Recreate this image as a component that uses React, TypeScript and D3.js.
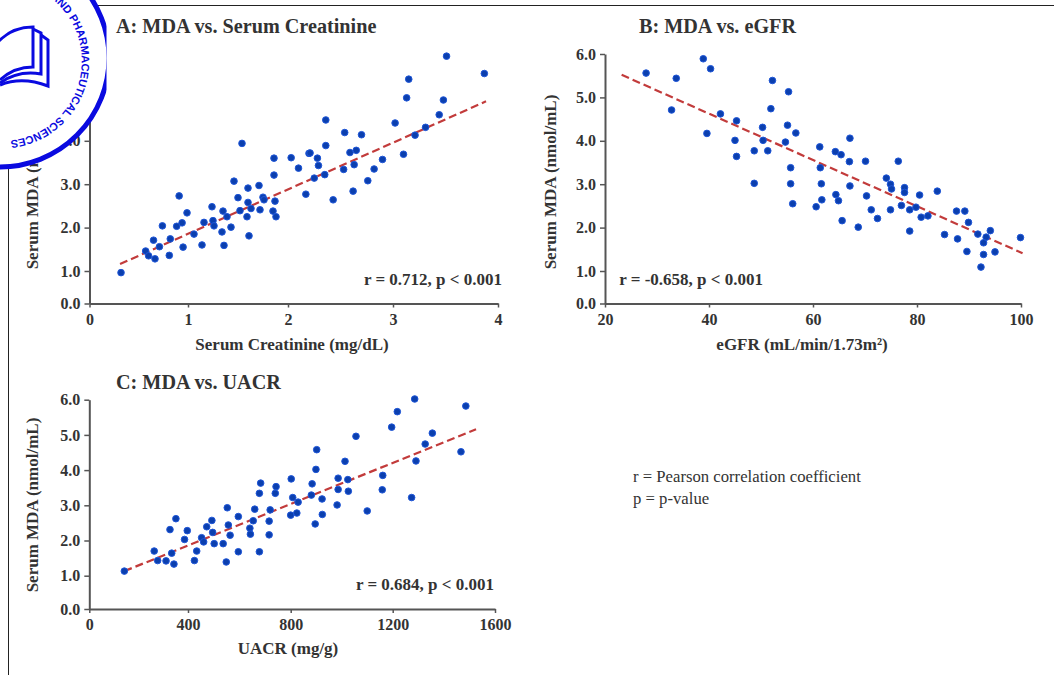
import React, { useEffect, useRef } from 'react';
import * as d3 from 'd3';

// A: MDA vs serum creatinine
const creatinine = [1.54,1.86,2.03,2.20,2.10,1.86,1.46,1.60,1.71,2.17,0.91,1.50,1.75,1.60,1.76,1.87,1.24,1.63,1.72,0.99,1.35,1.52,1.85,1.88,1.59,1.39,1.25,1.16,1.26,0.74,0.885,0.94,1.43,1.34,1.06,0.65,0.82,0.95,1.14,1.36,1.61,0.71,0.57,0.60,0.665,0.81,0.32,3.51,3.87,3.15,3.13,3.48,3.44,2.36,3.02,3.31,2.54,2.70,3.21,2.36,2.59,2.65,2.21,2.28,3.10,2.90,2.29,2.63,2.53,2.82,2.35,2.25,2.76,2.62,2.43];
const creatinineMda = [3.94,3.60,3.61,3.71,3.37,3.21,3.07,2.91,2.97,2.77,2.73,2.69,2.70,2.58,2.64,2.61,2.48,2.44,2.41,2.34,2.38,2.39,2.38,2.25,2.25,2.25,2.16,2.12,2.04,2.04,2.03,2.11,2.01,1.90,1.85,1.71,1.74,1.55,1.60,1.59,1.81,1.56,1.46,1.35,1.28,1.36,0.95,5.95,5.55,5.42,4.99,4.94,4.60,4.48,4.41,4.31,4.19,4.14,4.13,3.89,3.73,3.78,3.72,3.60,3.69,3.57,3.43,3.45,3.34,3.35,3.22,3.14,3.08,2.84,2.64];
const creatinineFitX = [0.31, 3.886];
const creatinineFitY = [1.16, 4.91];
const creatinineTicks = [0, 1, 2, 3, 4];

// B: MDA vs eGFR
const egfr = [27.9,33.7,38.9,40.3,32.8,39.6,42.2,45.3,45.0,45.3,48.7,48.7,50.3,50.4,51.3,52.2,51.9,55.3,55.1,56.7,54.7,55.7,55.7,56.1,61.3,67.1,64.3,65.4,67.0,70.1,76.4,61.4,61.6,67.1,74.1,74.9,75.1,77.6,77.6,80.5,83.9,64.4,70.3,61.7,64.9,60.6,77.0,71.2,74.9,78.6,79.8,87.6,89.2,80.8,82.1,72.4,65.6,68.7,78.6,89.9,85.3,87.8,91.7,94.1,93.3,92.8,99.9,89.6,95.0,92.8,92.3];
const egfrMda = [5.56,5.44,5.89,5.66,4.71,4.17,4.62,4.46,4.01,3.64,3.77,3.02,4.31,4.01,3.77,5.39,4.74,5.13,4.36,4.18,3.97,3.38,3.01,2.55,3.86,4.06,3.75,3.68,3.52,3.53,3.53,3.38,3.01,2.96,3.14,3.00,2.89,2.92,2.81,2.75,2.84,2.76,2.73,2.64,2.62,2.48,2.51,2.41,2.41,2.41,2.47,2.38,2.38,2.24,2.27,2.21,2.16,2.01,1.92,2.12,1.84,1.74,1.85,1.93,1.78,1.65,1.77,1.45,1.44,1.38,1.09];
const egfrFitX = [23.2, 100.3];
const egfrFitY = [5.52, 1.41];
const egfrTicks = [20, 40, 60, 80, 100];

// C: MDA vs UACR
const uacr = [142,263,277,311,343,334,327,351,386,397,425,434,453,461,473,493,496,502,537,549,564,557,553,596,596,641,643,654,660,678,683,678,716,720,716,740,743,802,808,829,824,800,884,881,899,902,923,924,896,986,986,982,1013,1024,1026,1056,1100,1161,1159,1196,1218,1274,1286,1291,1327,1355,1467,1486];
const uacrMda = [1.13,1.70,1.43,1.42,1.33,1.64,2.31,2.62,2.03,2.28,1.43,1.70,2.08,1.96,2.39,2.57,2.23,1.91,1.91,1.39,2.15,2.44,2.93,2.68,1.68,2.35,2.18,2.56,2.89,3.34,3.63,1.68,2.55,2.87,2.16,3.34,3.53,3.75,3.22,3.09,2.78,2.72,3.61,3.29,4.02,4.58,3.18,2.74,2.47,3.77,3.45,3.01,4.25,3.73,3.40,4.96,2.84,3.85,3.44,5.22,5.66,3.22,6.02,4.26,4.74,5.05,4.52,5.82];
const uacrFitX = [142, 1526];
const uacrFitY = [1.13, 5.16];
const uacrTicks = [0, 400, 800, 1200, 1600];

const mdaTicks = [0, 1, 2, 3, 4, 5, 6];

const FONT = '"Liberation Serif", serif';
const TEXT = '#333';
const AXIS = '#555';

function drawPanel(svg, p) {
  const x = d3.scaleLinear().domain(p.xTicks).range(p.xRange);
  const y = d3.scaleLinear().domain([0, 1, 6]).range(p.yRange);

  const xAxis = svg.append('g')
    .attr('transform', `translate(0,${p.yRange[0]})`)
    .call(d3.axisBottom(x).tickValues(p.xTicks).tickFormat(d3.format('d')).tickSize(4).tickSizeOuter(0).tickPadding(6));
  const yAxis = svg.append('g')
    .attr('transform', `translate(${p.xRange[0]},0)`)
    .call(d3.axisLeft(y).tickValues(mdaTicks).tickFormat(d3.format('.1f')).tickSize(5).tickSizeOuter(0).tickPadding(4));

  [xAxis, yAxis].forEach(a => {
    a.select('.domain').attr('stroke', AXIS).attr('stroke-width', 2);
    a.selectAll('line').attr('stroke', AXIS).attr('stroke-width', 1.5);
    a.selectAll('text')
      .style('font-family', FONT).style('font-weight', 'bold')
      .style('font-size', '16px').attr('fill', TEXT);
  });

  // fit line sits under the points
  const line = d3.line().x(d => x(d[0])).y(d => y(d[1]));
  svg.append('path')
    .attr('d', line(d3.zip(p.fitX, p.fitY)))
    .attr('fill', 'none')
    .attr('stroke', '#c23b3b')
    .attr('stroke-width', 2.2)
    .attr('stroke-dasharray', '8 4');

  svg.append('g').selectAll('circle')
    .data(d3.zip(p.xs, p.ys))
    .enter().append('circle')
    .attr('cx', d => x(d[0]))
    .attr('cy', d => y(d[1]))
    .attr('r', 3.3)
    .attr('fill', '#0b3fae')
    .attr('stroke', '#1f56d8')
    .attr('stroke-width', 1);

  const label = (txt, lx, ly, size, rotate = false, anchor = 'middle') => {
    const t = svg.append('text')
      .attr('text-anchor', anchor)
      .style('font-family', FONT).style('font-weight', 'bold')
      .style('font-size', size + 'px')
      .attr('fill', TEXT);
    if (rotate) t.attr('transform', `translate(${lx},${ly}) rotate(-90)`);
    else t.attr('x', lx).attr('y', ly);
    t.text(txt);
  };

  label(p.title, p.titleX, p.titleY, 20.2, false, 'start');
  label(p.xLabel, p.xLabelX, p.xLabelY, 17);
  label('Serum MDA (nmol/mL)', p.yLabelX, p.yLabelY, 17, true);
  label(p.stat, p.statX, p.statY, 17, false, 'end');
}

function drawLogo(svg) {
  const defs = svg.append('defs');
  defs.append('clipPath').attr('id', 'logo-clip')
    .append('rect').attr('x', 0).attr('y', -10).attr('width', 106.5).attr('height', 200);
  defs.append('path').attr('id', 'logo-arc')
    .attr('d', 'M 2 -19 A 80 80 0 1 1 -20 138');

  const g = svg.append('g').attr('clip-path', 'url(#logo-clip)');
  g.append('circle')
    .attr('cx', 0).attr('cy', 58).attr('r', 109)
    .attr('fill', '#fff')
    .attr('stroke', '#0a0ae0')
    .attr('stroke-width', 5);

  g.append('text')
    .style('font-family', '"Liberation Sans", sans-serif')
    .style('font-weight', 'bold')
    .style('font-size', '11px')
    .attr('fill', '#0a0ae0')
    .append('textPath')
    .attr('href', '#logo-arc')
    .attr('startOffset', 52)
    .text('AND PHARMACEUTICAL SCIENCES');

  // open book
  const book = g.append('g').attr('fill', 'none').attr('stroke', '#0a0ae0').attr('stroke-width', 3);
  book.append('path').attr('d', 'M -2 42 Q 12 27 33 27 L 33 67 Q 14 67 0 80');
  book.append('path').attr('d', 'M 33 29 L 41 33 L 41 74 Q 18 70 0 83');
  book.append('path').attr('d', 'M 41 35 L 48 40 L 48 86 Q 22 76 0 85');
}

const App = () => {
  const svgRef = useRef(null);

  useEffect(() => {
    const svg = d3.select(svgRef.current);
    svg.selectAll('*').remove();

    // page frame
    svg.append('line').attr('x1', 90).attr('x2', 1054).attr('y1', 5.5).attr('y2', 5.5).attr('stroke', '#222').attr('stroke-width', 1);
    svg.append('line').attr('x1', 8.5).attr('x2', 8.5).attr('y1', 150).attr('y2', 675).attr('stroke', '#222').attr('stroke-width', 1);

    drawPanel(svg, {
      xs: creatinine, ys: creatinineMda, fitX: creatinineFitX, fitY: creatinineFitY,
      xTicks: creatinineTicks, xRange: [89.5, 188, 288, 393, 498], yRange: [303.5, 271, 54],
      title: 'A: MDA vs. Serum Creatinine', titleX: 116, titleY: 33,
      xLabel: 'Serum Creatinine (mg/dL)', xLabelX: 292, xLabelY: 350,
      yLabelX: 38, yLabelY: 182,
      stat: 'r = 0.712, p < 0.001', statX: 502, statY: 285,
    });
    drawPanel(svg, {
      xs: egfr, ys: egfrMda, fitX: egfrFitX, fitY: egfrFitY,
      xTicks: egfrTicks, xRange: [605, 709, 813, 917, 1021], yRange: [303.5, 271, 54],
      title: 'B: MDA vs. eGFR', titleX: 639, titleY: 33,
      xLabel: 'eGFR (mL/min/1.73m²)', xLabelX: 802, xLabelY: 350,
      yLabelX: 556, yLabelY: 182,
      stat: 'r = -0.658, p < 0.001', statX: 763, statY: 285,
    });
    drawPanel(svg, {
      xs: uacr, ys: uacrMda, fitX: uacrFitX, fitY: uacrFitY,
      xTicks: uacrTicks, xRange: [89.3, 188, 290.7, 392.7, 495], yRange: [609, 575.7, 399.7],
      title: 'C: MDA vs. UACR', titleX: 116, titleY: 389,
      xLabel: 'UACR (mg/g)', xLabelX: 288, xLabelY: 654,
      yLabelX: 38, yLabelY: 505,
      stat: 'r = 0.684, p < 0.001', statX: 494, statY: 590,
    });

    const note = svg.append('g')
      .style('font-family', FONT)
      .style('font-size', '16.7px')
      .attr('fill', TEXT);
    note.append('text').attr('x', 633).attr('y', 482).text('r = Pearson correlation coefficient');
    note.append('text').attr('x', 633).attr('y', 504).text('p = p-value');

    drawLogo(svg);
  }, []);

  return (
    <svg
      ref={svgRef}
      width={1054}
      height={675}
      style={{ position: 'absolute', left: 0, top: 0, background: '#fff' }}
    />
  );
};

export default App;
